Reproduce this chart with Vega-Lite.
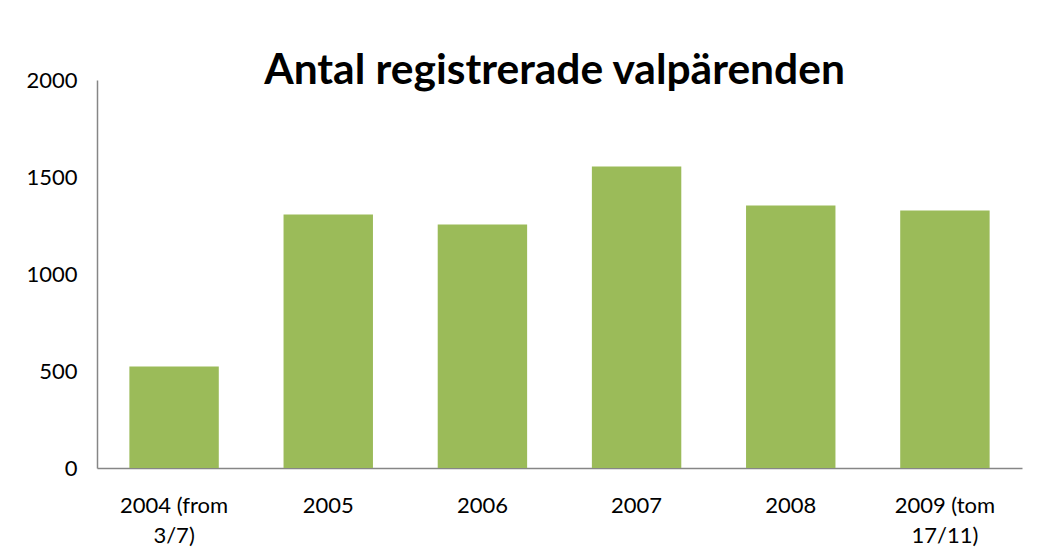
{
  "$schema": "https://vega.github.io/schema/vega-lite/v6.json",
  "autosize": "none",
  "width": 925,
  "height": 388,
  "padding": {"left": 97, "top": 80, "right": 42, "bottom": 83},
  "background": "white",
  "title": {
    "text": "Antal registrerade valpärenden",
    "font": "Lato",
    "fontSize": 42.5,
    "fontWeight": "bold",
    "color": "#000000",
    "anchor": "middle",
    "baseline": "alphabetic",
    "offset": -4,
    "dy": 53,
    "dx": -5
  },
  "data": {
    "values": [
      {"period": "2004 (from 3/7)", "antal": 523},
      {"period": "2005", "antal": 1307},
      {"period": "2006", "antal": 1255},
      {"period": "2007", "antal": 1554},
      {"period": "2008", "antal": 1353},
      {"period": "2009 (tom 17/11)", "antal": 1327}
    ]
  },
  "mark": {"type": "bar", "color": "#9BBB59"},
  "encoding": {
    "x": {
      "field": "period",
      "type": "nominal",
      "sort": null,
      "title": null,
      "scale": {"paddingInner": 0.42, "paddingOuter": 0.21},
      "axis": {
        "labelAngle": 0,
        "labelFont": "Lato",
        "labelFontSize": 22,
        "labelColor": "#000000",
        "labelPadding": 27,
        "labelLineHeight": 30,
        "labelExpr": "length(datum.value) > 4 ? [slice(datum.value, 0, lastindexof(datum.value, ' ')), slice(datum.value, lastindexof(datum.value, ' ') + 1)] : datum.value",
        "ticks": false,
        "domainColor": "#868686",
        "domainWidth": 1.5
      }
    },
    "y": {
      "field": "antal",
      "type": "quantitative",
      "title": null,
      "scale": {"domain": [0, 2000], "nice": false},
      "axis": {
        "values": [0, 500, 1000, 1500, 2000],
        "format": "d",
        "grid": false,
        "ticks": false,
        "labelFont": "Lato",
        "labelFontSize": 22,
        "labelColor": "#000000",
        "labelPadding": 20,
        "domainColor": "#868686",
        "domainWidth": 1.5
      }
    }
  },
  "config": {"view": {"stroke": null}}
}
